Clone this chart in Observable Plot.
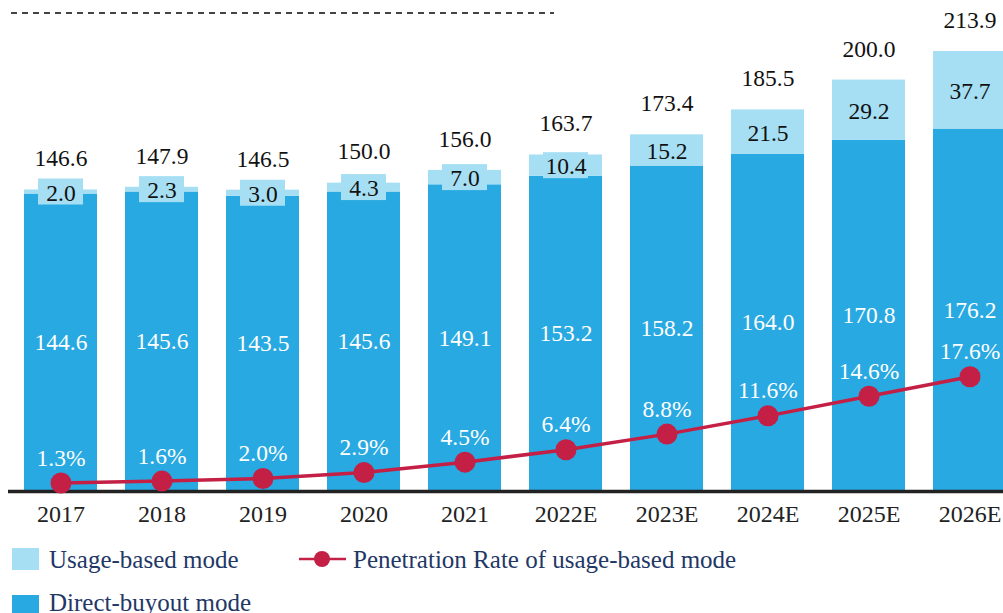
<!DOCTYPE html>
<html>
<head>
<meta charset="utf-8">
<script src="https://cdn.jsdelivr.net/npm/d3@7"></script>
<script src="https://cdn.jsdelivr.net/npm/@observablehq/plot@0.6"></script>
<style>
  html, body { margin: 0; padding: 0; background: #fff; }
  #wrap { position: relative; width: 1003px; height: 613px; overflow: hidden; font-family: "Liberation Serif", "DejaVu Serif", serif; }
  #chart { position: absolute; left: 0; top: 0; }
  #chart svg, #chart svg text { font-family: "Liberation Serif", serif !important; }
  .leg { position: absolute; font-size: 25px; color: #1f3866; line-height: 1; white-space: nowrap; }
  .sw { position: absolute; width: 27px; height: 22px; }
</style>
</head>
<body>
<div id="wrap">
  <svg style="position:absolute;left:0;top:0" width="1003" height="30">
    <line x1="11" y1="13" x2="554" y2="13" stroke="#444" stroke-width="2" stroke-dasharray="6,5"></line>
  </svg>
  <div id="chart"></div>
  <div class="sw" style="left:12px;top:548px;background:#a6dff3"></div>
  <div class="leg" style="left:49px;top:547px">Usage-based mode</div>
  <svg style="position:absolute;left:297px;top:548px" width="52" height="22">
    <line x1="2" y1="11" x2="49" y2="11" stroke="#c41f45" stroke-width="2.5"></line>
    <circle cx="25" cy="11" r="8" fill="#c41f45"></circle>
  </svg>
  <div class="leg" style="left:353px;top:547px">Penetration Rate of usage-based mode</div>
  <div class="sw" style="left:12px;top:595px;background:#29a9e1"></div>
  <div class="leg" style="left:49px;top:590px">Direct-buyout mode</div>
</div>
<script>
const years = ["2017","2018","2019","2020","2021","2022E","2023E","2024E","2025E","2026E"];
const directBuyout = [144.6,145.6,143.5,145.6,149.1,153.2,158.2,164.0,170.8,176.2];
const usageBased   = [2.0,2.3,3.0,4.3,7.0,10.4,15.2,21.5,29.2,37.7];
const totals       = [146.6,147.9,146.5,150.0,156.0,163.7,173.4,185.5,200.0,213.9];
const penetration  = [1.3,1.6,2.0,2.9,4.5,6.4,8.8,11.6,14.6,17.6];

const DARK = "#29a9e1", LIGHT = "#a6dff3", RED = "#c41f45";
const PCT_K = 3.17; // maps % onto the bar value axis (secondary axis scaling)

const stacked = [];
years.forEach((y, i) => {
  stacked.push({year: y, series: "Direct-buyout mode", value: directBuyout[i]});
  stacked.push({year: y, series: "Usage-based mode", value: usageBased[i]});
});
const rows = years.map((y, i) => ({
  year: y, direct: directBuyout[i], usage: usageBased[i], total: totals[i], pct: penetration[i]
}));

const chart = Plot.plot({
  width: 1003,
  height: 535,
  marginLeft: 8, marginRight: 0, marginTop: 0, marginBottom: 44,
  style: {fontFamily: "'Liberation Serif', serif", fontSize: "23px", background: "transparent", overflow: "visible"},
  x: {domain: years, range: [22.5, 1006.5], paddingInner: 0.279, paddingOuter: 0, axis: null},
  y: {domain: [0, 213.9], range: [491, 51], axis: null},
  color: {domain: ["Direct-buyout mode", "Usage-based mode"], range: [DARK, LIGHT]},
  marks: [
    Plot.barY(stacked, {x: "year", y: "value", fill: "series"}),
    Plot.barY(rows, {x: "year", y1: d => d.direct + d.usage / 2, y2: d => d.direct + d.usage / 2,
      fill: LIGHT, insetLeft: 14, insetRight: 14, insetTop: -13, insetBottom: -13}),
    Plot.ruleY([0], {stroke: "#222", strokeWidth: 3.5}),
    Plot.text(rows, {x: "year", y: "total", text: d => d.total.toFixed(1), dy: -31, fill: "#111", fontSize: 23.5}),
    Plot.text(rows, {x: "year", y: d => d.direct + d.usage / 2, text: d => d.usage.toFixed(1), dy: 1, fill: "#111", fontSize: 23.5}),
    Plot.text(rows, {x: "year", y: d => d.direct / 2, text: d => d.direct.toFixed(1), fill: "#fff", fontSize: 23.5}),
    Plot.line(rows, {x: "year", y: d => d.pct * PCT_K, stroke: RED, strokeWidth: 3.5}),
    Plot.dot(rows, {x: "year", y: d => d.pct * PCT_K, r: 10.5, fill: RED, stroke: "none"}),
    Plot.text(rows, {x: "year", y: d => d.pct * PCT_K, text: d => d.pct.toFixed(1) + "%", dy: -25, fill: "#fff", fontSize: 23.5}),
    Plot.text(rows, {x: "year", y: 0, text: "year", dy: 23, fill: "#222", fontSize: 24})
  ]
});
document.getElementById("chart").appendChild(chart);
</script>
</body>
</html>
